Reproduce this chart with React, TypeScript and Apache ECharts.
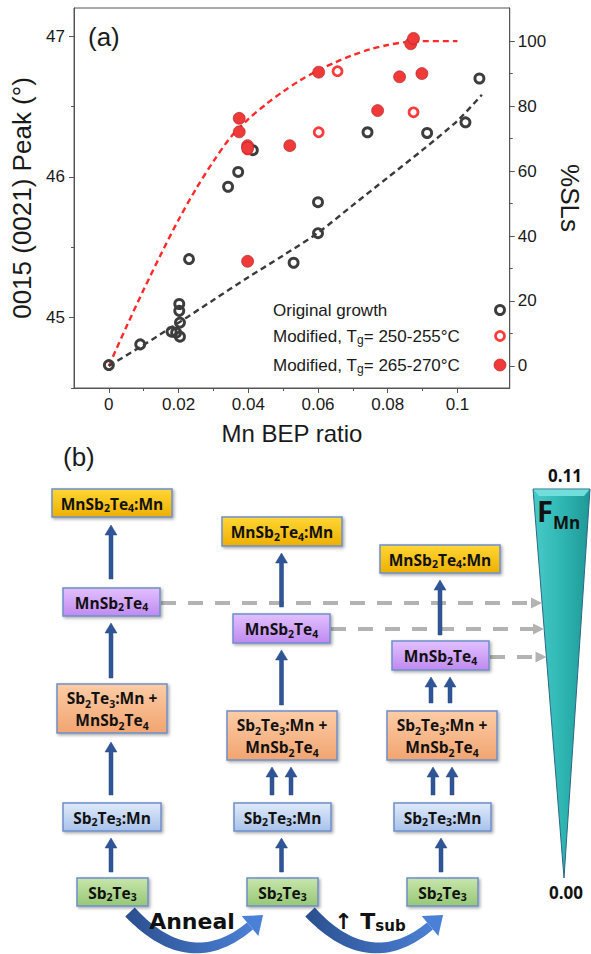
import React, { useEffect, useRef } from "react";
import * as echarts from "echarts";

const SANS = "'Liberation Sans', Arial, Helvetica, sans-serif";
const BOLD = "'Open Sans', 'DejaVu Sans', sans-serif";

// ---- panel (a) data ----
const mnBepOriginal = [0, 0.009, 0.018, 0.0193, 0.0204, 0.0204, 0.0202, 0.0202, 0.023, 0.0342, 0.0371, 0.0413, 0.053, 0.06, 0.06, 0.0742, 0.0913, 0.1023, 0.1063];
const peakOriginal = [44.663, 44.81, 44.9, 44.893, 44.865, 44.965, 45.048, 45.097, 45.416, 45.93, 46.035, 46.19, 45.39, 45.6, 45.82, 46.317, 46.312, 46.388, 46.699];
const mnBepMod250 = [0.0398, 0.0602, 0.0656, 0.0874];
const peakMod250 = [46.195, 46.317, 46.751, 46.459];
const mnBepMod265 = [0.0374, 0.0374, 0.0398, 0.0398, 0.0398, 0.0519, 0.0602, 0.0771, 0.0834, 0.0898, 0.0866, 0.0874];
const peakMod265 = [46.416, 46.32, 46.222, 46.205, 45.4, 46.222, 46.744, 46.471, 46.711, 46.734, 46.946, 46.984];
const fitRedX = [0, 0.005, 0.01, 0.015, 0.02, 0.025, 0.03, 0.035, 0.04, 0.045, 0.05, 0.055, 0.06, 0.065, 0.07, 0.075, 0.08, 0.085, 0.09, 0.1];
const fitRedSL = [0, 12, 23.5, 34.5, 45, 54.5, 63, 70.5, 76, 80.5, 84.5, 88, 91, 93.5, 95.7, 97.5, 98.8, 99.7, 100, 100];
const fitGrayX = [0, 0.01, 0.02, 0.03, 0.04, 0.05, 0.06, 0.07, 0.08, 0.09, 0.1, 0.107];
const fitGraySL = [0, 6.5, 13.3, 20.3, 27.3, 34, 41, 49.5, 58, 66.5, 75.5, 83.5];

const xMajorTicks = [0, 0.02, 0.04, 0.06, 0.08, 0.1];
const xMinorTicks = [0.01, 0.03, 0.05, 0.07, 0.09];
const peakMajorTicks = [45, 46, 47];
const peakMinorTicks = [44.5, 45.5, 46.5];
const slMajorTicks = [0, 20, 40, 60, 80, 100];
const slMinorTicks = [10, 30, 50, 70, 90];

const legendLabels = ["Original growth", "Modified, T{s|g}= 250-255°C", "Modified, T{s|g}= 265-270°C"];

const zip = (a: number[], b: number[]) => a.map((v, i) => [v, b[i]]);

// ---- panel (b) diagram layout ----
const boxColors: Record<string, [string, string]> = {
  yellow: ["#ffd636", "#eeb000"],
  purple: ["#e2c0ff", "#bf8af0"],
  orange: ["#fdcca6", "#f1a470"],
  blue: ["#dfeafa", "#a9c2ea"],
  green: ["#c8e6ab", "#96c776"],
};
const diagramBoxes = [
  { x: 52, y: 489, w: 120, h: 28, c: "yellow", t: "MnSb_2Te_4:Mn" },
  { x: 63, y: 588, w: 97, h: 28, c: "purple", t: "MnSb_2Te_4" },
  { x: 57, y: 684, w: 110, h: 49, c: "orange", t: "Sb_2Te_3:Mn +\nMnSb_2Te_4" },
  { x: 63, y: 803, w: 98, h: 28, c: "blue", t: "Sb_2Te_3:Mn" },
  { x: 77, y: 878, w: 71, h: 28, c: "green", t: "Sb_2Te_3" },
  { x: 222, y: 517, w: 120, h: 29, c: "yellow", t: "MnSb_2Te_4:Mn" },
  { x: 233, y: 614, w: 97, h: 29, c: "purple", t: "MnSb_2Te_4" },
  { x: 227, y: 711, w: 110, h: 49, c: "orange", t: "Sb_2Te_3:Mn +\nMnSb_2Te_4" },
  { x: 234, y: 803, w: 97, h: 28, c: "blue", t: "Sb_2Te_3:Mn" },
  { x: 247, y: 878, w: 71, h: 28, c: "green", t: "Sb_2Te_3" },
  { x: 380, y: 545, w: 120, h: 28, c: "yellow", t: "MnSb_2Te_4:Mn" },
  { x: 392, y: 641, w: 97, h: 29, c: "purple", t: "MnSb_2Te_4" },
  { x: 387, y: 711, w: 110, h: 49, c: "orange", t: "Sb_2Te_3:Mn +\nMnSb_2Te_4" },
  { x: 394, y: 803, w: 97, h: 28, c: "blue", t: "Sb_2Te_3:Mn" },
  { x: 407, y: 878, w: 71, h: 28, c: "green", t: "Sb_2Te_3" },
];
const upArrows = [
  [111, 525, 579], [111, 623, 678], [111, 742, 795], [111, 838, 872],
  [281.5, 553, 607], [281.5, 650, 705], [272, 767, 795], [291, 767, 795], [281.5, 838, 872],
  [440, 580, 635], [431, 677, 703], [450, 677, 703], [433, 767, 795], [452, 767, 795], [441, 838, 872],
];
const dashedArrows = [
  [161, 603, 542],
  [331, 629, 544],
  [490, 657, 546.5],
];

function boxElements() {
  const out: any[] = [];
  for (const b of diagramBoxes) {
    const [c1, c2] = boxColors[b.c];
    out.push({
      type: "rect",
      shape: { x: b.x, y: b.y, width: b.w, height: b.h },
      style: {
        fill: new echarts.graphic.LinearGradient(0, 0, 0, 1, [
          { offset: 0, color: c1 },
          { offset: 1, color: c2 },
        ]),
        stroke: "#6e8fca",
        lineWidth: 1.5,
        shadowBlur: 3,
        shadowOffsetX: 1.5,
        shadowOffsetY: 1.5,
        shadowColor: "rgba(0,0,0,0.35)",
      },
      z: 10,
    });
    const multi = b.t.indexOf("\n") >= 0;
    out.push({
      type: "text",
      x: b.x + b.w / 2,
      y: b.y + b.h / 2 + 0.5,
      z: 11,
      style: {
        text: b.t.replace(/_(\d)/g, "{s|$1}"),
        fontFamily: BOLD,
        fontWeight: "bold",
        fontSize: 15.5,
        lineHeight: multi ? 22 : 20,
        fill: "#111",
        align: "center",
        verticalAlign: "middle",
        rich: {
          s: {
            fontFamily: BOLD,
            fontWeight: "bold",
            fontSize: 10.5,
            lineHeight: multi ? 12 : 10,
            verticalAlign: "bottom",
            fill: "#111",
          },
        },
      },
    });
  }
  return out;
}

function arrowElements() {
  return upArrows.map(([x, tip, bottom]) => ({
    type: "polygon",
    z: 12,
    shape: {
      points: [
        [x - 2, bottom], [x - 2, tip + 10], [x - 6, tip + 10], [x, tip],
        [x + 6, tip + 10], [x + 2, tip + 10], [x + 2, bottom],
      ],
    },
    style: { fill: "#2f5597", stroke: "#284a85", lineWidth: 0.5 },
  }));
}

function dashedElements() {
  const out: any[] = [];
  for (const [x1, y, tip] of dashedArrows) {
    out.push({
      type: "line",
      z: 5,
      shape: { x1, y1: y, x2: tip - 11, y2: y },
      style: { stroke: "#b3b3b3", lineWidth: 4, lineDash: [15, 12] },
    });
    out.push({
      type: "polygon",
      z: 5,
      shape: { points: [[tip - 11, y - 5.5], [tip, y], [tip - 11, y + 5.5]] },
      style: { fill: "#b3b3b3" },
    });
  }
  return out;
}

function curvedArrow(x0: number) {
  const P0 = [x0, 912], P1 = [x0 + 60, 976], P2 = [x0 + 120, 926];
  const n = 40;
  const a: number[][] = [], b: number[][] = [];
  for (let i = 0; i <= n; i++) {
    const t = i / n;
    const x = (1 - t) ** 2 * P0[0] + 2 * t * (1 - t) * P1[0] + t * t * P2[0];
    const y = (1 - t) ** 2 * P0[1] + 2 * t * (1 - t) * P1[1] + t * t * P2[1];
    const dx = 2 * (1 - t) * (P1[0] - P0[0]) + 2 * t * (P2[0] - P1[0]);
    const dy = 2 * (1 - t) * (P1[1] - P0[1]) + 2 * t * (P2[1] - P1[1]);
    const L = Math.hypot(dx, dy);
    const nx = -dy / L, ny = dx / L;
    const w = (13 - 4 * t) / 2;
    a.push([x + nx * w, y + ny * w]);
    b.push([x - nx * w, y - ny * w]);
  }
  const body = a.concat(b.reverse());
  const dx = P2[0] - P1[0], dy = P2[1] - P1[1];
  const L = Math.hypot(dx, dy);
  const ux = dx / L, uy = dy / L, nx = -uy, ny = ux;
  const head = [
    [P2[0] + nx * 13, P2[1] + ny * 13],
    [P2[0] + ux * 17, P2[1] + uy * 17],
    [P2[0] - nx * 13, P2[1] - ny * 13],
  ];
  const grad = new echarts.graphic.LinearGradient(0, 0, 1, 0, [
    { offset: 0, color: "#2b4f8f" },
    { offset: 1, color: "#4a80d4" },
  ]);
  return [
    { type: "polygon", z: 6, shape: { points: body }, style: { fill: grad } },
    { type: "polygon", z: 6, shape: { points: head }, style: { fill: "#4a80d6" } },
  ];
}

function gaugeElements() {
  return [
    {
      type: "polygon",
      z: 4,
      shape: { points: [[533, 489], [590, 489], [564, 878]] },
      style: {
        fill: new echarts.graphic.LinearGradient(0, 0, 1, 0, [
          { offset: 0, color: "#47cbc8" },
          { offset: 0.55, color: "#2db4b1" },
          { offset: 1, color: "#1f9896" },
        ]),
        stroke: "#2e6686",
        lineWidth: 1,
      },
    },
    {
      type: "polygon",
      z: 4,
      shape: { points: [[533.5, 489.5], [589.5, 489.5], [584, 496], [539, 496]] },
      style: { fill: "#72dedb" },
    },
    {
      type: "text", x: 565, y: 475, z: 4,
      style: { text: "0.11", fontFamily: BOLD, fontWeight: "bold", fontSize: 17, fill: "#111", align: "center", verticalAlign: "middle" },
    },
    {
      type: "text", x: 566, y: 892, z: 4,
      style: { text: "0.00", fontFamily: BOLD, fontWeight: "bold", fontSize: 17, fill: "#111", align: "center", verticalAlign: "middle" },
    },
    {
      type: "text", x: 537, y: 510, z: 5,
      style: { text: "F", fontFamily: BOLD, fontWeight: "bold", fontSize: 29, fill: "#111", align: "left", verticalAlign: "middle" },
    },
    {
      type: "text", x: 553, y: 522, z: 5,
      style: { text: "Mn", fontFamily: BOLD, fontWeight: "bold", fontSize: 17, fill: "#111", align: "left", verticalAlign: "middle" },
    },
  ];
}

function legendElements() {
  const ys = [310, 336, 365];
  const out: any[] = [];
  legendLabels.forEach((label, i) => {
    out.push({
      type: "text",
      x: 273,
      y: ys[i],
      z: 20,
      style: {
        text: label,
        fontFamily: SANS,
        fontSize: 17,
        lineHeight: 20,
        fill: "#1a1a1a",
        align: "left",
        verticalAlign: "middle",
        rich: { s: { fontFamily: SANS, fontSize: 12, lineHeight: 9, verticalAlign: "bottom", fill: "#1a1a1a" } },
      },
    });
  });
  out.push({ type: "circle", z: 20, shape: { cx: 500, cy: ys[0], r: 4.5 }, style: { fill: "none", stroke: "#3d3d3d", lineWidth: 2.9 } });
  out.push({ type: "circle", z: 20, shape: { cx: 500, cy: ys[1], r: 4.5 }, style: { fill: "none", stroke: "#ff3b3b", lineWidth: 2.7 } });
  out.push({ type: "circle", z: 20, shape: { cx: 500, cy: ys[2], r: 6 }, style: { fill: "#f03a3a", stroke: "#a02020", lineWidth: 0.6 } });
  return out;
}

export default function App() {
  const ref = useRef<HTMLDivElement>(null);
  useEffect(() => {
    if (!ref.current) return;
    const chart = echarts.init(ref.current, null, { renderer: "svg" });
    const axisLineStyle = { color: "#555", width: 1 };
    const labelStyle = { fontFamily: SANS, fontSize: 17, color: "#1a1a1a" };
    const option: any = {
      animation: false,
      backgroundColor: "#fff",
      grid: { left: 74, top: 8, width: 446, height: 380, show: true, borderColor: "#555", borderWidth: 1 },
      xAxis: [
        {
          type: "value", min: -0.01, max: 0.115, position: "bottom",
          axisLine: { show: true, onZero: false, lineStyle: axisLineStyle },
          axisTick: { show: true, length: 5, customValues: xMajorTicks, lineStyle: axisLineStyle },
          axisLabel: { ...labelStyle, margin: 8, customValues: xMajorTicks },
          splitLine: { show: false },
          name: "Mn BEP ratio", nameLocation: "middle", nameGap: 33,
          nameTextStyle: { fontFamily: SANS, fontSize: 24, color: "#1a1a1a" },
        },
        {
          type: "value", min: -0.01, max: 0.115, position: "bottom",
          axisLine: { show: false, onZero: false },
          axisTick: { show: true, length: 3, customValues: xMinorTicks, lineStyle: axisLineStyle },
          axisLabel: { show: false },
          splitLine: { show: false },
        },
      ],
      yAxis: [
        {
          type: "value", min: 44.5, max: 47.2, position: "left",
          axisLine: { show: true, onZero: false, lineStyle: axisLineStyle },
          axisTick: { show: true, length: 5, customValues: peakMajorTicks, lineStyle: axisLineStyle },
          axisLabel: { ...labelStyle, margin: 9, customValues: peakMajorTicks },
          splitLine: { show: false },
          name: "0015 (0021) Peak (°)", nameLocation: "middle", nameGap: 38, nameRotate: 90,
          nameTextStyle: { fontFamily: SANS, fontSize: 26, color: "#1a1a1a" },
        },
        {
          type: "value", min: -6.8, max: 110.2, position: "right",
          axisLine: { show: true, onZero: false, lineStyle: axisLineStyle },
          axisTick: { show: true, length: 5, customValues: slMajorTicks, lineStyle: axisLineStyle },
          axisLabel: { ...labelStyle, margin: 8, customValues: slMajorTicks },
          splitLine: { show: false },
          name: "%SLs", nameLocation: "middle", nameGap: 45, nameRotate: -90,
          nameTextStyle: { fontFamily: SANS, fontSize: 26, color: "#1a1a1a" },
        },
        {
          type: "value", min: 44.5, max: 47.2, position: "left",
          axisLine: { show: false, onZero: false },
          axisTick: { show: true, length: 3, customValues: peakMinorTicks, lineStyle: axisLineStyle },
          axisLabel: { show: false },
          splitLine: { show: false },
        },
        {
          type: "value", min: -6.8, max: 110.2, position: "right",
          axisLine: { show: false, onZero: false },
          axisTick: { show: true, length: 3, customValues: slMinorTicks, lineStyle: axisLineStyle },
          axisLabel: { show: false },
          splitLine: { show: false },
        },
      ],
      series: [
        {
          type: "line", name: "SL fit (modified)", xAxisIndex: 0, yAxisIndex: 1,
          data: zip(fitRedX, fitRedSL), smooth: 0.3, symbol: "none", z: 2,
          lineStyle: { color: "#ff2a2a", width: 2.4, type: [6, 4] },
        },
        {
          type: "line", name: "SL fit (original)", xAxisIndex: 0, yAxisIndex: 1,
          data: zip(fitGrayX, fitGraySL), smooth: 0.3, symbol: "none", z: 2,
          lineStyle: { color: "#3a3a3a", width: 2.4, type: [6, 4] },
        },
        {
          type: "scatter", name: "Original growth", xAxisIndex: 0, yAxisIndex: 0,
          data: zip(mnBepOriginal, peakOriginal), symbol: "circle", symbolSize: 9, z: 3,
          itemStyle: { color: "rgba(255,255,255,0)", borderColor: "#3d3d3d", borderWidth: 2.9, opacity: 1 },
        },
        {
          type: "scatter", name: "Modified, Tg= 250-255°C", xAxisIndex: 0, yAxisIndex: 0,
          data: zip(mnBepMod250, peakMod250), symbol: "circle", symbolSize: 9, z: 4,
          itemStyle: { color: "rgba(255,255,255,0)", borderColor: "#ff3b3b", borderWidth: 2.7, opacity: 1 },
        },
        {
          type: "scatter", name: "Modified, Tg= 265-270°C", xAxisIndex: 0, yAxisIndex: 0,
          data: zip(mnBepMod265, peakMod265), symbol: "circle", symbolSize: 12, z: 5,
          itemStyle: { color: "#f03a3a", borderColor: "#a02020", borderWidth: 0.6, opacity: 1 },
        },
      ],
      graphic: [
        { type: "text", x: 88, y: 37, z: 20, style: { text: "(a)", fontFamily: SANS, fontSize: 26, fill: "#1a1a1a", verticalAlign: "middle" } },
        { type: "text", x: 63, y: 457, z: 20, style: { text: "(b)", fontFamily: SANS, fontSize: 26, fill: "#1a1a1a", verticalAlign: "middle" } },
        ...legendElements(),
        ...gaugeElements(),
        ...dashedElements(),
        ...curvedArrow(130),
        ...curvedArrow(310),
        ...boxElements(),
        ...arrowElements(),
        {
          type: "text", x: 192, y: 921, z: 12,
          style: { text: "Anneal", fontFamily: "'DejaVu Sans', sans-serif", fontWeight: "bold", fontSize: 22, fill: "#111", align: "center", verticalAlign: "middle" },
        },
        {
          type: "text", x: 370, y: 921, z: 12,
          style: {
            text: "↑ T{s|sub}", fontFamily: "'DejaVu Sans', sans-serif", fontWeight: "bold", fontSize: 22, lineHeight: 24,
            fill: "#111", align: "center", verticalAlign: "middle",
            rich: { s: { fontFamily: "'DejaVu Sans', sans-serif", fontWeight: "bold", fontSize: 15, lineHeight: 12, verticalAlign: "bottom", fill: "#111" } },
          },
        },
      ],
    };
    chart.setOption(option);
    return () => chart.dispose();
  }, []);
  return (
    <div
      ref={ref}
      style={{ position: "absolute", left: 0, top: 0, width: 591, height: 954, background: "#fff" }}
    />
  );
}
